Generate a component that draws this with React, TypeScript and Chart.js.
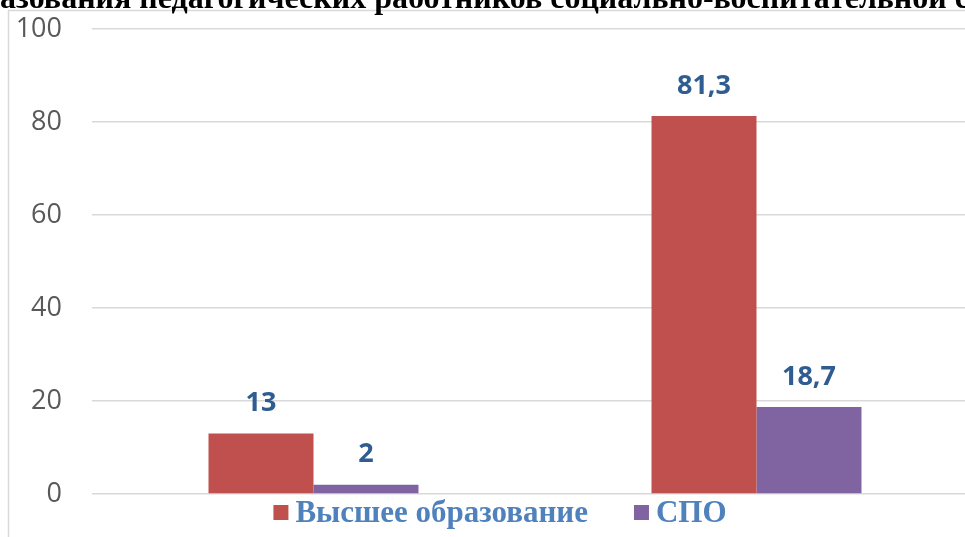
import React, { useEffect, useRef } from "react";
import { Chart, registerables } from "chart.js";

Chart.register(...registerables);

const categories = ["1", "2"];
const seriesNames = ["Высшее образование", "СПО"];
const higherEdu = [13, 81.3];
const spo = [2, 18.7];
const seriesColors = ["#C0504D", "#8064A2"];
const yTicks = [0, 20, 40, 60, 80, 100];
const titleText = "Уровень образования педагогических работников социально-воспитательной службы";

const W = 990;
const H = 537;

export default function App() {
  const ref = useRef<HTMLCanvasElement | null>(null);
  useEffect(() => {
    const canvas = ref.current;
    if (!canvas) return;

    const decor = {
      id: "decor",
      beforeDraw(chart: any) {
        const ctx = chart.ctx;
        ctx.save();
        ctx.fillStyle = "#ffffff";
        ctx.fillRect(0, 0, chart.width, chart.height);
        // frame
        ctx.strokeStyle = "#d9d9d9";
        ctx.lineWidth = 1.5;
        ctx.beginPath();
        ctx.moveTo(8.5, chart.height);
        ctx.lineTo(8.5, 10.5);
        ctx.lineTo(chart.width, 10.5);
        ctx.stroke();
        // cut-off title (only its lower part is visible)
        ctx.font = "bold 100px 'Liberation Serif'";
        const span = ctx.measureText("азования педагогических работников социально-воспитательной ").width;
        const size = (100 * 955) / span;
        ctx.font = `bold ${size}px 'Liberation Serif'`;
        ctx.fillStyle = "#000000";
        ctx.textBaseline = "alphabetic";
        ctx.textAlign = "left";
        const pre = ctx.measureText("Уровень обр").width;
        ctx.fillText(titleText, -pre, 8);
        ctx.restore();
      },
      afterDatasetsDraw(chart: any) {
        const ctx = chart.ctx;
        ctx.save();
        ctx.font = "bold 27px 'Open Sans'";
        ctx.fillStyle = "#2F5D91";
        ctx.textAlign = "center";
        ctx.textBaseline = "middle";
        chart.data.datasets.forEach((ds: any, i: number) => {
          const meta = chart.getDatasetMeta(i);
          meta.data.forEach((bar: any, j: number) => {
            const v = ds.data[j];
            const txt = String(v).replace(".", ",");
            ctx.fillText(txt, bar.x, bar.y - 30);
          });
        });
        // legend
        ctx.font = "bold 31px 'Liberation Serif'";
        ctx.textBaseline = "alphabetic";
        ctx.textAlign = "left";
        const box = 15;
        const gapBox = 7;
        const gapItem = 46;
        const widths = chart.data.datasets.map((ds: any) => ctx.measureText(ds.label).width);
        let total = 0;
        widths.forEach((w: number, i: number) => {
          total += box + gapBox + w + (i < widths.length - 1 ? gapItem : 0);
        });
        let x = 500 - total / 2;
        const baseline = 522;
        chart.data.datasets.forEach((ds: any, i: number) => {
          ctx.fillStyle = ds.backgroundColor;
          ctx.fillRect(x, 505, box, box);
          x += box + gapBox;
          ctx.fillStyle = "#4F81BD";
          ctx.fillText(ds.label, x, baseline);
          x += widths[i] + gapItem;
        });
        ctx.restore();
      },
    };

    const chart = new Chart(canvas, {
      type: "bar",
      data: {
        labels: categories,
        datasets: [
          { label: seriesNames[0], data: higherEdu, backgroundColor: seriesColors[0] },
          { label: seriesNames[1], data: spo, backgroundColor: seriesColors[1] },
        ],
      },
      options: {
        responsive: false,
        animation: false,
        devicePixelRatio: 1,
        layout: { padding: { top: 29, bottom: H - 494, left: 0, right: W - 978 } },
        datasets: { bar: { categoryPercentage: 0.474, barPercentage: 1 } },
        plugins: { legend: { display: false }, title: { display: false }, tooltip: { enabled: false } },
        scales: {
          x: { display: false },
          y: {
            min: 0,
            max: 100,
            afterBuildTicks: (scale: any) => {
              scale.ticks = yTicks.map((v) => ({ value: v }));
            },
            afterFit: (scale: any) => {
              scale.width = 92;
            },
            border: { display: false },
            grid: { color: "#d9d9d9", lineWidth: 1.5, drawTicks: true, tickLength: 30, tickColor: "rgba(0,0,0,0)" },
            ticks: {
              padding: 0,
              color: "#595959",
              font: { family: "'Open Sans'", size: 27 },
            },
          },
        },
      },
      plugins: [decor],
    });
    return () => chart.destroy();
  }, []);

  return (
    <div style={{ position: "fixed", left: 0, top: 0, width: 965, height: 537, overflow: "hidden", background: "#fff" }}>
      <canvas ref={ref} width={W} height={H} style={{ display: "block", width: W, height: H }} />
    </div>
  );
}
